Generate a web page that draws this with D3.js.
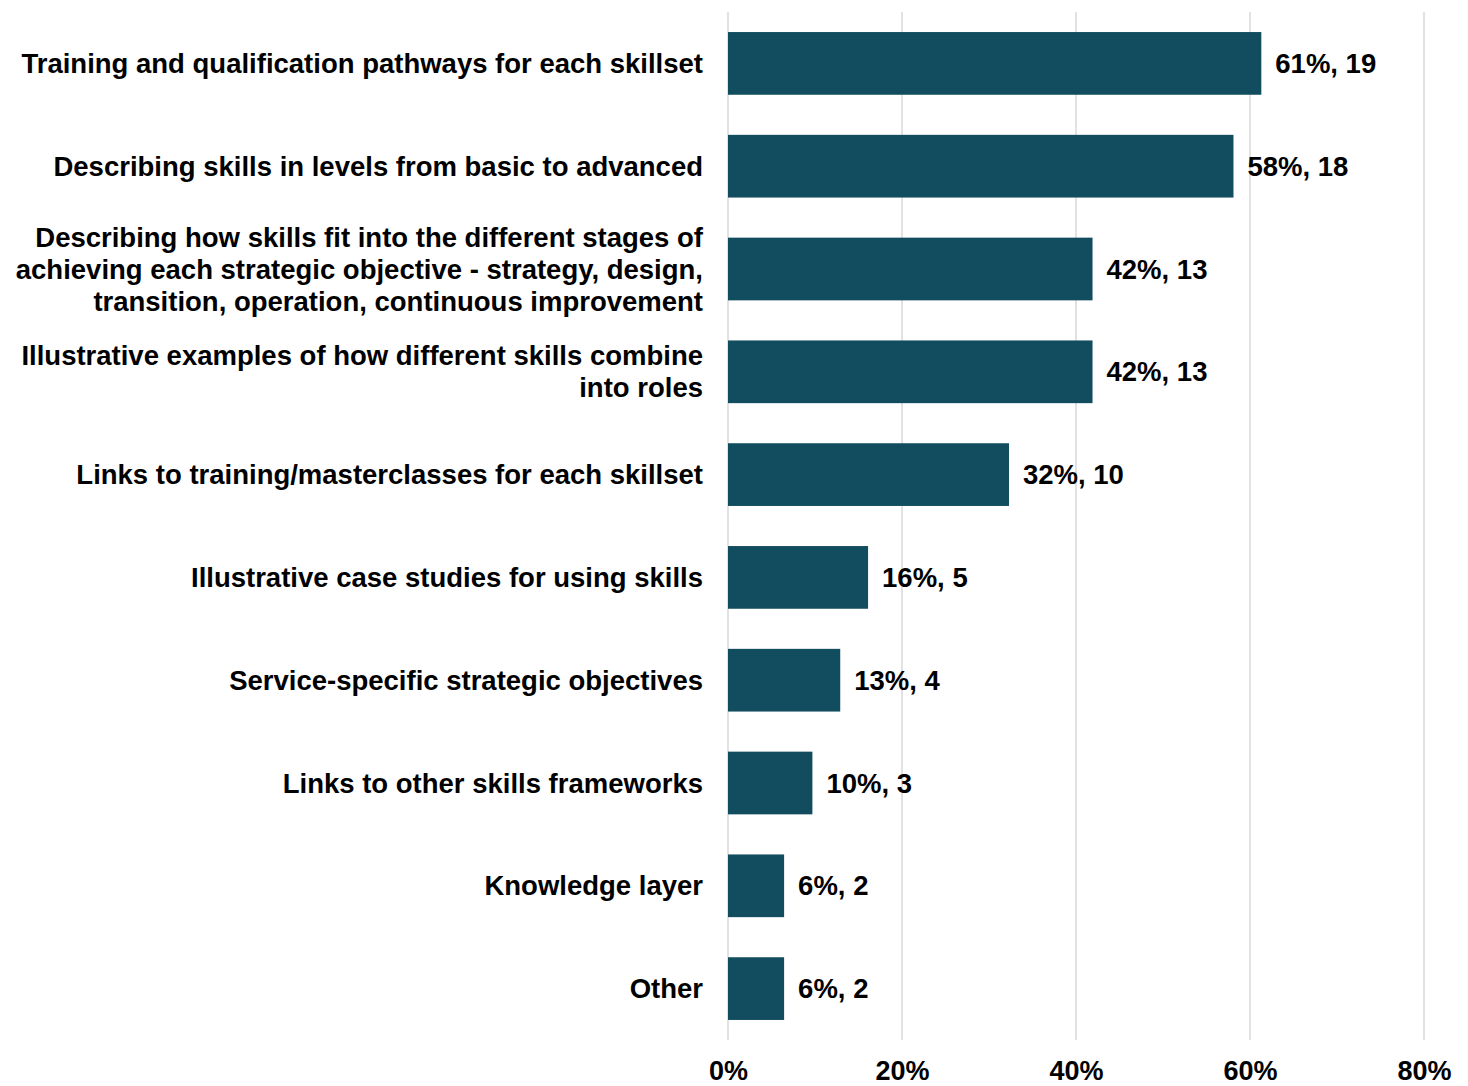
<!DOCTYPE html>
<html>
<head>
<meta charset="utf-8">
<script src="https://cdn.jsdelivr.net/npm/d3@7"></script>
<style>
  body { margin: 0; background: #fff; }
  text { font-family: "Liberation Sans", Arial, sans-serif; font-weight: bold; fill: #000; }
</style>
</head>
<body>
<div id="wrapper"></div>
<script>
// Data
const categories = [
  ["Training and qualification pathways for each skillset"],
  ["Describing skills in levels from basic to advanced"],
  ["Describing how skills fit into the different stages of",
   "achieving each strategic objective - strategy, design,",
   "transition, operation, continuous improvement"],
  ["Illustrative examples of how different skills combine", "into roles"],
  ["Links to training/masterclasses for each skillset"],
  ["Illustrative case studies for using skills"],
  ["Service-specific strategic objectives"],
  ["Links to other skills frameworks"],
  ["Knowledge layer"],
  ["Other"]
]
const percents = [61.3, 58.1, 41.9, 41.9, 32.3, 16.1, 12.9, 9.7, 6.45, 6.45]
const counts = [19, 18, 13, 13, 10, 5, 4, 3, 2, 2]
const xTicks = [0, 20, 40, 60, 80]

const data = categories.map((c, i) => ({ label: c, pct: percents[i], n: counts[i] }))

// Dimensions
const dims = {
  width: 1468,
  height: 1086,
  margin: { top: 12, right: 44, bottom: 46, left: 728 }
}
dims.boundedWidth = dims.width - dims.margin.left - dims.margin.right
dims.boundedHeight = dims.height - dims.margin.top - dims.margin.bottom

const fontSize = 27.5

const svg = d3.select("#wrapper")
  .append("svg")
    .attr("width", dims.width)
    .attr("height", dims.height)

const bounds = svg.append("g")
    .attr("transform", `translate(${dims.margin.left},${dims.margin.top})`)

// Scales
const xScale = d3.scaleLinear()
  .domain([0, 80])
  .range([0, dims.boundedWidth])

const yScale = d3.scaleBand()
  .domain(d3.range(data.length))
  .range([0, dims.boundedHeight])
  .paddingInner(0.39)
  .paddingOuter(0.195)

// Gridlines
bounds.append("g")
  .selectAll("line")
  .data(xTicks)
  .join("line")
    .attr("x1", d => xScale(d))
    .attr("x2", d => xScale(d))
    .attr("y1", 0)
    .attr("y2", dims.boundedHeight)
    .attr("stroke", "#d9d9d9")
    .attr("stroke-width", 1.5)

// Bars
bounds.append("g")
  .selectAll("rect")
  .data(data)
  .join("rect")
    .attr("x", 0)
    .attr("y", (d, i) => yScale(i))
    .attr("width", d => xScale(d.pct))
    .attr("height", yScale.bandwidth())
    .attr("fill", "#124c5f")

// Value labels
bounds.append("g")
  .selectAll("text")
  .data(data)
  .join("text")
    .attr("x", d => xScale(d.pct) + 14)
    .attr("y", (d, i) => yScale(i) + yScale.bandwidth() / 2)
    .attr("dy", "0.35em")
    .style("font-size", fontSize + "px")
    .text(d => `${Math.round(d.pct)}%, ${d.n}`)

// Category labels
const lineH = 32
const catG = bounds.append("g")
  .selectAll("text")
  .data(data)
  .join("text")
    .attr("text-anchor", "end")
    .attr("y", (d, i) => yScale(i) + yScale.bandwidth() / 2)
    .style("font-size", fontSize + "px")

catG.selectAll("tspan")
  .data(d => d.label.map((t, j) => ({ t, j, k: d.label.length })))
  .join("tspan")
    .attr("x", -25)
    .attr("dy", d => d.j === 0 ? `${0.35 * fontSize - (d.k - 1) * lineH / 2}px` : `${lineH}px`)
    .text(d => d.t)

// X axis
const xAxis = d3.axisBottom(xScale)
  .tickValues(xTicks)
  .tickFormat(d => d + "%")
  .tickSize(0)
  .tickPadding(21)

bounds.append("g")
  .attr("transform", `translate(0,${dims.boundedHeight})`)
  .call(xAxis)
  .call(g => g.select(".domain").remove())
  .call(g => g.selectAll("text")
    .style("font-size", "27px")
    .style("font-family", "'Liberation Sans Narrow', 'Liberation Sans', sans-serif"))
</script>
</body>
</html>
